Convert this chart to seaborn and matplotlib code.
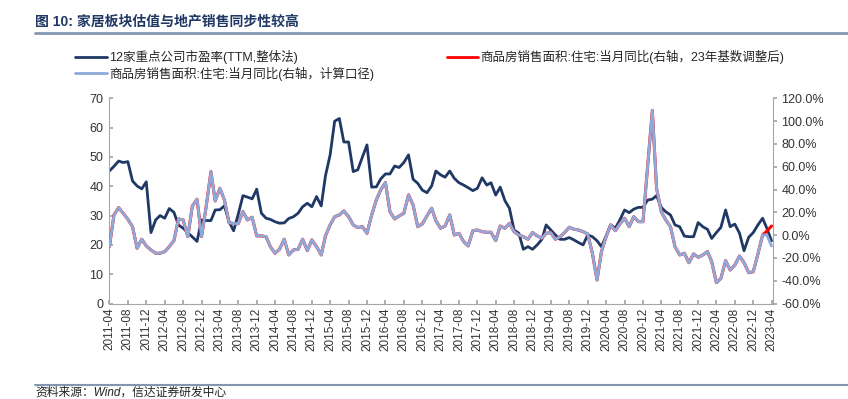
import pandas as pd
import numpy as np
import matplotlib
matplotlib.use("Agg")
import matplotlib.pyplot as plt
import matplotlib.dates as mdates
from matplotlib.lines import Line2D
import seaborn as sns

# monthly, 2011-04 .. 2023-04
start_month = "2011-04-01"

# 12家重点公司市盈率(TTM,整体法), left axis
pe = [45.2, 46.8, 48.6, 48.1, 48.4, 41.8, 40.1, 39.1, 41.5, 24.2,
      28.5, 30.0, 29.1, 32.4, 31.1, 26.8, 25.7, 24.2, 22.8, 21.2,
      28.5, 28.3, 28.3, 31.9, 32.0, 33.3, 27.9, 24.8, 30.5, 36.8,
      36.3, 35.7, 39.0, 30.8, 29.1, 28.7, 27.9, 27.4, 27.5, 29.0,
      29.6, 30.8, 33.0, 34.2, 33.0, 36.5, 33.3, 43.5, 50.7, 62.2,
      63.1, 55.1, 55.1, 45.0, 45.6, 50.0, 54.1, 39.7, 39.8, 42.5,
      44.2, 44.2, 46.9, 46.4, 48.1, 50.7, 42.4, 41.0, 38.7, 37.8,
      40.1, 45.2, 43.9, 43.1, 45.2, 42.7, 41.2, 40.4, 39.5, 38.5,
      39.3, 42.9, 40.4, 41.2, 37.0, 39.7, 35.1, 32.5, 25.0, 24.0,
      18.5, 19.4, 18.5, 20.0, 21.9, 26.8, 25.1, 23.4, 21.9, 21.9,
      22.5, 21.7, 20.8, 20.0, 23.4, 22.8, 21.4, 19.4, 23.0, 26.8,
      25.7, 28.5, 31.9, 31.0, 32.2, 32.8, 32.8, 35.3, 35.6, 36.8,
      32.8, 31.3, 30.2, 26.8, 26.2, 23.0, 22.8, 22.8, 27.6, 26.2,
      25.3, 22.2, 24.2, 26.0, 31.9, 26.2, 27.1, 24.0, 18.0, 22.6,
      24.2, 26.8, 29.1, 25.7, 21.4]

# 商品房销售面积:住宅:当月同比 (%), right axis
sales = [-10.1, 17.7, 24.1, 19.2, 13.9, 7.4, -11.5, -3.6, -9.5, -13.0,
         -15.9, -15.9, -14.5, -10.1, -4.9, 14.2, 13.3, -1.4, 25.6, 31.5,
         -1.4, 25.6, 55.7, 30.0, 41.1, 30.9, 10.9, 10.1, 10.1, 20.6,
         13.3, 15.7, -0.7, -0.7, -1.4, -10.1, -15.9, -12.4, -3.6, -17.4,
         -13.0, -12.4, -3.6, -13.6, -4.2, -10.1, -17.4, -0.7, 8.9, 16.2,
         17.7, 21.2, 16.2, 8.9, 6.6, 7.4, 1.6, 17.7, 30.9, 39.7,
         46.1, 20.6, 14.2, 16.8, 19.2, 35.3, 26.5, 7.4, 9.8, 16.8,
         23.6, 12.7, 6.0, 8.0, 17.7, 0.1, 1.6, -5.7, -9.5, 3.9,
         4.5, 3.0, 2.5, 2.5, -4.9, 8.0, 6.0, 10.4, 3.0, 0.1,
         -1.4, -3.6, 2.2, -0.7, -2.7, 1.6, 2.2, -3.6, -1.4, 2.2,
         6.9, 5.2, 4.5, 3.0, 1.0, -15.9, -39.4, -14.5, -1.4, 8.9,
         3.9, 9.8, 14.8, 7.4, 16.2, 11.8, 11.8, 60.0, 109.3, 41.1,
         20.6, 13.3, 7.4, -10.1, -17.4, -15.9, -24.2, -16.5, -19.4, -17.4,
         -14.5, -23.3, -41.7, -37.9, -22.4, -30.6, -26.2, -18.3, -24.2, -33.0,
         -32.1, -16.5, 0.1, 0.1, -9.5]

# 23年基数调整后: same history, different last two months
sales_adj_tail = [3.5, 8.0]
sales_adj = sales[:-2] + sales_adj_tail

dates = pd.date_range(start_month, periods=len(pe), freq="MS")
df = pd.DataFrame({"date": dates, "pe": pe, "sales": sales, "sales_adj": sales_adj})

sns.set_theme(style="white")
plt.rcParams["font.family"] = ["Liberation Sans", "Noto Sans CJK SC", "DejaVu Sans"]
plt.rcParams["axes.unicode_minus"] = False

navy = "#1f3864"
light_blue = "#8eaadb"
red = "#ff0000"
spine_col = "#a6a6a6"

fig = plt.figure(figsize=(8.48, 3.99), dpi=100)
ax = fig.add_axes([0.1285, 0.2393, 0.9116 - 0.1285, 0.7536 - 0.2393])
ax2 = ax.twinx()

sns.lineplot(data=df, x="date", y="pe", ax=ax, color=navy, linewidth=2.0, legend=False)
# red drawn under the blue one; it only shows where the two differ
sns.lineplot(data=df, x="date", y="sales_adj", ax=ax2, color=red, linewidth=2.2, legend=False)
sns.lineplot(data=df, x="date", y="sales", ax=ax2, color=light_blue, linewidth=2.0, legend=False)

ax.set_ylim(0, 70)
ax.set_yticks(range(0, 71, 10))
ax2.set_ylim(-60, 120)
ax2.set_yticks(range(-60, 121, 20))
ax2.set_yticklabels([f"{v:.1f}%" for v in range(-60, 121, 20)])

ax.set_xlim(dates[0] - pd.Timedelta(days=3), dates[-1] + pd.Timedelta(days=10))
ax.set_xticks(dates[::4])
ax.xaxis.set_major_formatter(mdates.DateFormatter("%Y-%m"))
for lab in ax.get_xticklabels():
    lab.set_rotation(90)

ax.set_xlabel("")
ax.set_ylabel("")
ax2.set_ylabel("")

for a in (ax, ax2):
    for s in a.spines.values():
        s.set_visible(False)
ax.spines["left"].set_visible(True)
ax.spines["bottom"].set_visible(True)
ax2.spines["right"].set_visible(True)
for s in (ax.spines["left"], ax.spines["bottom"], ax2.spines["right"]):
    s.set_color(spine_col)
    s.set_linewidth(0.8)

ax.tick_params(axis="y", direction="in", length=3, color=spine_col, labelsize=9,
               labelcolor="#333333", pad=4, left=True)
ax.tick_params(axis="x", direction="in", length=3, color=spine_col, labelsize=8.5,
               labelcolor="#333333", pad=3, bottom=True)
ax2.tick_params(axis="y", direction="out", length=3, color=spine_col, labelsize=9,
                labelcolor="#333333", pad=3, right=True)

# legend (two columns, above plot)
handles = [Line2D([], [], color=navy, lw=2.0),
           Line2D([], [], color=light_blue, lw=2.0),
           Line2D([], [], color=red, lw=2.0)]
labels = ["12家重点公司市盈率(TTM,整体法)",
          "商品房销售面积:住宅:当月同比(右轴，计算口径)",
          "商品房销售面积:住宅:当月同比(右轴，23年基数调整后)"]
fig.legend(handles, labels, ncol=2, loc="upper left", bbox_to_anchor=(0.089, 0.875),
           frameon=False, fontsize=9, handlelength=2.5, handletextpad=0.2,
           columnspacing=5.8, labelspacing=0.2, borderpad=0, borderaxespad=0)

# title and source
fig.text(35 / 848, 1 - 22 / 399, "图 10: 家居板块估值与地产销售同步性较高", fontsize=10,
         fontweight="bold", color=navy, va="center", ha="left")
fig.add_artist(Line2D([35 / 848, 1], [1 - 33 / 399] * 2, color="#8497b0", lw=2))
fig.add_artist(Line2D([35 / 848, 1], [1 - 385 / 399] * 2, color="#8497b0", lw=1.5))
fig.text(35 / 848, 1 - 393 / 399, "资料来源：Wind，信达证券研发中心", fontsize=8.5,
         style="italic", color="#222222", va="center", ha="left")

fig.savefig("out.png", dpi=100)
